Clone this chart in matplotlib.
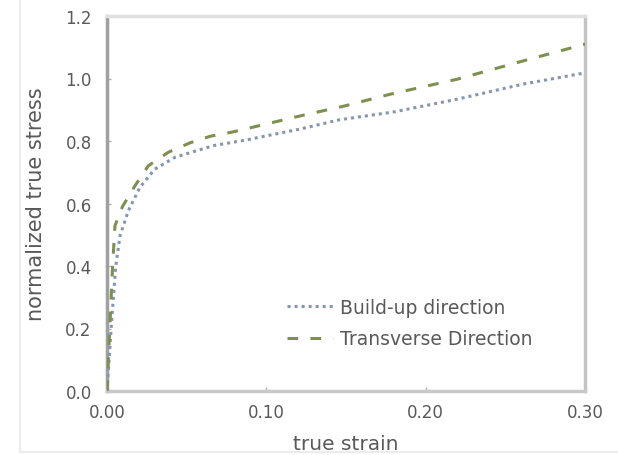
import numpy as np
import matplotlib
matplotlib.use("Agg")
import matplotlib.pyplot as plt
from matplotlib.lines import Line2D

# values
strain_bu = [0, 0.003, 0.0055, 0.0082, 0.0134, 0.0207, 0.030, 0.0427, 0.0563, 0.0666,
             0.087, 0.121, 0.146, 0.180, 0.220, 0.261, 0.300]
stress_bu = [0, 0.23, 0.40, 0.497, 0.577, 0.652, 0.710, 0.748, 0.769, 0.785,
             0.803, 0.838, 0.868, 0.893, 0.934, 0.982, 1.018]

strain_tr = [0, 0.002, 0.0035, 0.005, 0.0098, 0.0176, 0.026, 0.0385, 0.052, 0.0647,
             0.079, 0.121, 0.149, 0.178, 0.220, 0.261, 0.300]
stress_tr = [0, 0.23, 0.40, 0.529, 0.591, 0.657, 0.721, 0.764, 0.794, 0.815,
             0.829, 0.880, 0.912, 0.950, 0.998, 1.056, 1.110]

labels = ["Build-up direction", "Transverse Direction"]
xticks = [0.0, 0.1, 0.2, 0.3]
xticklabels = ["0.00", "0.10", "0.20", "0.30"]
yticks = [0.0, 0.2, 0.4, 0.6, 0.8, 1.0, 1.2]

plt.rcParams['font.family'] = ['DejaVu Sans']
txt_color = "#595959"

fig = plt.figure(figsize=(6.18, 4.56), dpi=100)
ax = fig.add_axes([107/618, 64/456, 478/618, 375/456])

ax.plot(strain_bu, stress_bu, color="#8496b0", lw=2.2, linestyle=(0, (1, 1.3)),
        label=labels[0], zorder=3)
ax.plot(strain_tr, stress_tr, color="#7f8f50", lw=2.2, linestyle=(0, (3.5, 4)),
        label=labels[1], zorder=4)

ax.set_xlim(0, 0.3)
ax.set_ylim(0, 1.2)
ax.set_xticks(xticks)
ax.set_xticklabels(xticklabels)
ax.set_yticks(yticks)
ax.set_yticklabels(["{:.1f}".format(v) for v in yticks])
ax.tick_params(direction="in", length=3, width=1, color="#b0b0b0",
               labelsize=12, labelcolor=txt_color)
ax.tick_params(axis="x", pad=9)
ax.tick_params(axis="y", pad=11)

ax.spines["left"].set_color("#a0a0a0")
ax.spines["left"].set_linewidth(2.5)
ax.spines["bottom"].set_color("#c8c8c8")
ax.spines["bottom"].set_linewidth(2.5)
ax.spines["top"].set_color("#e0e0e0")
ax.spines["top"].set_linewidth(2.5)
ax.spines["right"].set_color("#c4c4c4")
ax.spines["right"].set_linewidth(2.5)

ax.set_xlabel("true strain", fontsize=14.5, color=txt_color, labelpad=9)
ax.set_ylabel("normalized true stress", fontsize=15, color=txt_color, labelpad=14)

ax.legend(loc="upper left", bbox_to_anchor=((287-107)/478, (392-299)/375),
          bbox_transform=ax.transAxes, frameon=False, borderpad=0, borderaxespad=0,
          fontsize=13.5, labelcolor=txt_color, handlelength=2.45,
          handletextpad=0.35, labelspacing=0.65)

# outer chart border (light grey)
fig.add_artist(Line2D([20/618, 20/618], [3/456, 1], color="#ececec", lw=1.5))
fig.add_artist(Line2D([20/618, 1], [3/456, 3/456], color="#ececec", lw=1.5))

fig.savefig("out.png", dpi=100)
